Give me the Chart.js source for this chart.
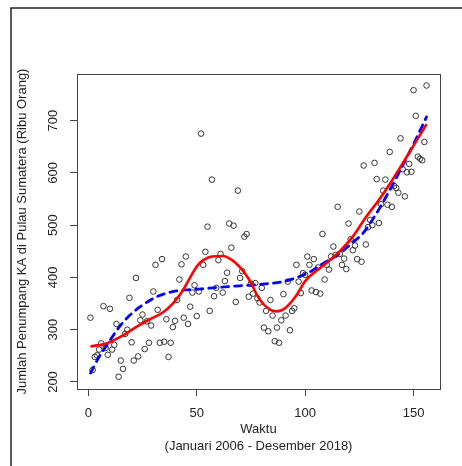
<!DOCTYPE html>
<html>
<head>
<meta charset="utf-8">
<script src="https://cdn.jsdelivr.net/npm/chart.js@4.4.0/dist/chart.umd.min.js"></script>
<style>
    body { margin: 0; background: #fff; }
    #wrap { width: 462px; height: 466px; }
</style>
</head>
<body>
<div id="wrap"><canvas id="penumpang" width="462" height="466"></canvas></div>
<script>
// bulan ke-1 .. ke-156 (Jan 2006 - Des 2018)
const bulan = Array.from({length: 156}, (_, i) => i + 1);

// jumlah penumpang (ribu orang)
const penumpang = [
    323, 223, 248, 251, 262, 274, 345, 265, 252, 340, 262, 271,
    311, 210, 241, 225, 292, 300, 361, 276, 241, 399, 249, 318,
    329, 263, 316, 275, 308, 373, 424, 338, 275, 435, 277, 320,
    248, 275, 305, 317, 357, 396, 425, 323, 440, 311, 344, 371,
    385, 326, 373, 675, 424, 449, 497, 336, 587, 364, 380, 433,
    445, 371, 393, 409, 503, 457, 499, 353, 566, 399, 412, 478,
    483, 363, 388, 369, 389, 360, 352, 380, 304, 336, 297, 357,
    327, 278, 304, 275, 318, 368, 327, 392, 299, 336, 341, 424,
    392, 370, 408, 405, 440, 424, 375, 435, 372, 419, 369, 483,
    396, 424, 415, 440, 459, 443, 535, 445, 424, 436, 416, 503,
    473, 452, 461, 435, 526, 430, 614, 463, 496, 510, 500, 619,
    588, 504, 540, 566, 587, 539, 640, 535, 575, 571, 562, 666,
    607, 555, 601, 617, 602, 758, 709, 631, 627, 624, 659, 767
];

// kurva merah (garis utuh)
const merahX = [1, 4, 8, 16, 22, 28, 34, 39, 43, 47, 50, 53, 57, 62, 66, 70, 74, 79, 84, 87, 91, 96, 100, 105, 110, 116, 122, 128, 134, 140, 146, 150, 156];
const merahY = [268, 270, 273, 289, 305, 319, 332, 350, 371, 400, 421, 433, 440, 441, 434, 419, 397, 358, 338, 335, 342, 366, 393, 412, 428, 450, 478, 515, 548, 585, 625, 652, 693];

// kurva biru (garis putus-putus)
const biruX = [1, 5, 9, 13, 18, 24, 31, 38, 45, 52, 60, 70, 80, 90, 97, 102, 108, 116, 122, 127, 131, 135, 142, 150, 156];
const biruY = [217, 248, 273, 298, 323, 344, 362, 372, 376, 378, 381, 384, 387, 392, 401, 410, 426, 446, 467, 486, 510, 537, 590, 655, 707];

const tickX = [0, 50, 100, 150];
const tickY = [200, 300, 400, 500, 600, 700];

const fontUtama = "'Liberation Sans', Arial, sans-serif";

const bingkai = {
    id: 'bingkai',
    afterDraw(chart) {
        const ctx = chart.ctx;
        const a = chart.chartArea;
        ctx.save();
        ctx.strokeStyle = '#444';
        ctx.lineWidth = 1;
        ctx.strokeRect(a.left + 0.5, a.top + 0.5, a.right - a.left, a.bottom - a.top);
        ctx.strokeStyle = '#222';
        ctx.lineWidth = 1.5;
        ctx.beginPath();
        ctx.moveTo(11, 466);
        ctx.lineTo(11, 8);
        ctx.lineTo(462, 8);
        ctx.stroke();
        ctx.restore();
    }
};

function pasangkan(xs, ys) {
    return xs.map((x, i) => ({x: x, y: ys[i]}));
}

function renderChart() {
    const chartID = document.getElementById('penumpang').getContext('2d');
    const chart = new Chart(chartID, {
        type: 'scatter',
        data: {
            datasets: [{
                data: pasangkan(merahX, merahY),
                showLine: true,
                borderColor: '#ff0000',
                borderWidth: 2.6,
                pointRadius: 0,
                cubicInterpolationMode: 'monotone',
                fill: false
            }, {
                data: pasangkan(biruX, biruY),
                showLine: true,
                borderColor: '#0000ff',
                borderWidth: 2.8,
                borderDash: [7, 6],
                borderCapStyle: 'round',
                pointRadius: 0,
                cubicInterpolationMode: 'monotone',
                fill: false
            }, {
                data: pasangkan(bulan, penumpang),
                showLine: false,
                pointStyle: 'circle',
                pointRadius: 2.8,
                pointBorderWidth: 1,
                pointBorderColor: '#333',
                pointBackgroundColor: 'rgba(0,0,0,0)'
            }]
        },
        options: {
            responsive: false,
            animation: false,
            layout: { padding: { top: 74, right: 22, left: 0, bottom: 0 } },
            plugins: { legend: { display: false }, tooltip: { enabled: false } },
            scales: {
                x: {
                    type: 'linear',
                    min: -5.2,
                    max: 162.2,
                    afterBuildTicks: function (axis) { axis.ticks = tickX.map(v => ({value: v})); },
                    afterFit: function (scale) { scale.height = 77; },
                    grid: { drawOnChartArea: false, drawTicks: true, tickLength: 7, color: '#444' },
                    border: { display: false },
                    ticks: { font: { size: 13, family: fontUtama }, color: '#222', padding: 10, maxRotation: 0 },
                    title: {
                        display: true,
                        text: ['Waktu', '(Januari 2006 - Desember 2018)'],
                        font: { size: 13, family: fontUtama, lineHeight: 1.34 },
                        color: '#222',
                        padding: { top: 0, bottom: 10.6 }
                    }
                },
                y: {
                    type: 'linear',
                    min: 186.6,
                    max: 789,
                    afterBuildTicks: function (axis) { axis.ticks = tickY.map(v => ({value: v})); },
                    afterFit: function (scale) { scale.width = 77; },
                    grid: { drawOnChartArea: false, drawTicks: true, tickLength: 7, color: '#444' },
                    border: { display: false },
                    ticks: { font: { size: 13, family: fontUtama }, color: '#222', padding: 6, minRotation: 90, maxRotation: 90, crossAlign: 'center' },
                    title: {
                        display: true,
                        text: 'Jumlah Penumpang KA di Pulau Sumatera (Ribu Orang)',
                        font: { size: 13, family: fontUtama },
                        color: '#222',
                        padding: { top: 14.5, bottom: 0 }
                    }
                }
            }
        },
        plugins: [bingkai]
    });
}

window.addEventListener("load", function () {
    renderChart();
});
</script>
</body>
</html>
